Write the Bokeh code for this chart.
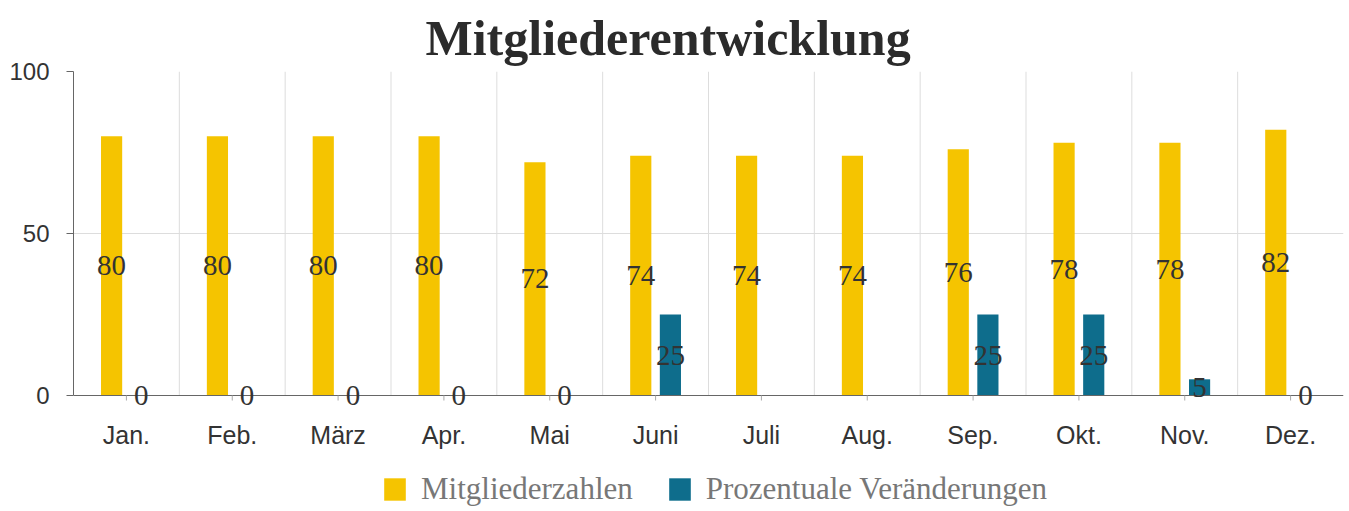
from bokeh.plotting import figure
from bokeh.models import ColumnDataSource, FixedTicker, Legend, LegendItem
from bokeh.core.properties import value
from bokeh.embed import file_html
from bokeh.resources import INLINE

months = ["Jan.", "Feb.", "März", "Apr.", "Mai", "Juni", "Juli", "Aug.", "Sep.", "Okt.", "Nov.", "Dez."]
members = [80, 80, 80, 80, 72, 74, 74, 74, 76, 78, 78, 82]
changes = [0, 0, 0, 0, 0, 25, None, None, 25, 25, 5, 0]
series_names = ["Mitgliederzahlen", "Prozentuale Veränderungen"]
yticks = [0, 50, 100]

YELLOW = "#f5c400"
TEAL = "#0e6d8c"
OFF = 0.14
BW = 0.2

# vertical layout: frame from y=71 px (value 100) to canvas bottom 511 px; value 0 at 395 px
PX_PER_UNIT = (395 - 71) / 100.0
Y_MIN = -(511 - 395) / PX_PER_UNIT
Y_MAX = max(yticks)

centers = [i + 0.5 for i in range(len(months))]
bounds_x = list(range(1, len(months)))

src_m = ColumnDataSource(dict(x=[c - OFF for c in centers], top=members,
                              mid=[v / 2 for v in members], lab=[str(v) for v in members]))
cx, ct = [], []
for c, v in zip(centers, changes):
    if v is not None:
        cx.append(c + OFF)
        ct.append(v)
src_c = ColumnDataSource(dict(x=cx, top=ct, mid=[v / 2 for v in ct], lab=[str(v) for v in ct]))

p = figure(width=1349, height=511, x_range=(0, 12), y_range=(Y_MIN, Y_MAX),
           output_backend="svg", toolbar_location=None,
           min_border_left=73, min_border_right=6, min_border_top=71, min_border_bottom=0)
p.outline_line_color = None

p.title.text = "Mitgliederentwicklung"
p.title.align = "left"
p.title.offset = 352
p.title.standoff = 12
p.title.text_line_height = 0.85
p.title.text_font = "Liberation Serif"
p.title.text_font_style = "bold"
p.title.text_font_size = "50px"
p.title.text_color = "#2b2b2b"

# grid lines (only within the 0..100 value area)
p.xgrid.visible = False
p.segment(x0=bounds_x, y0=[0] * len(bounds_x), x1=bounds_x, y1=[Y_MAX] * len(bounds_x),
          line_color="#dddddd", line_width=1)
p.ygrid.ticker = FixedTicker(ticks=[50, 100])
p.ygrid.grid_line_color = "#dddddd"

r1 = p.vbar(x="x", top="top", width=BW, bottom=0, source=src_m, color=YELLOW, line_color=None)
r2 = p.vbar(x="x", top="top", width=BW, bottom=0, source=src_c, color=TEAL, line_color=None)

# category axis drawn at value 0
p.xaxis.visible = False
p.segment(x0=[0], y0=[0], x1=[12], y1=[0], line_color="#666666", line_width=1.2)
p.segment(x0=centers, y0=[0] * 12, x1=centers, y1=[-5 / PX_PER_UNIT] * 12,
          line_color="#aaaaaa", line_width=1)
p.text(x=centers, y=[-39 / PX_PER_UNIT] * 12, text=months, text_align="center",
       text_baseline="middle", text_font=value("Liberation Sans"), text_font_size="25px",
       text_color="#333333")

for s in (src_m, src_c):
    p.text(x="x", y="mid", text="lab", source=s, text_align="center", text_baseline="middle",
           text_font=value("Liberation Serif"), text_font_size="29px", text_color="#333333")

p.yaxis.ticker = FixedTicker(ticks=yticks)
p.yaxis.bounds = (0, 100)
p.yaxis.major_label_text_font = "Liberation Sans"
p.yaxis.major_label_text_font_size = "24px"
p.yaxis.major_label_text_color = "#333333"
p.yaxis.major_label_standoff = 17
p.yaxis.major_tick_in = 0
p.yaxis.major_tick_out = 7
p.yaxis.major_tick_line_color = "#666666"
p.yaxis.minor_tick_line_color = None
p.yaxis.axis_line_color = "#666666"

legend = Legend(items=[LegendItem(label=series_names[0], renderers=[r1]),
                       LegendItem(label=series_names[1], renderers=[r2])],
                orientation="horizontal", location=(308, 4))
legend.label_text_font = "Liberation Serif"
legend.label_text_font_size = "31px"
legend.label_text_color = "#777777"
legend.glyph_width = 27
legend.glyph_height = 28
legend.label_standoff = 13
legend.spacing = 33
legend.padding = 0
legend.margin = 0
legend.border_line_color = None
legend.background_fill_alpha = 0
p.add_layout(legend)

open("out.html", "w").write(file_html(p, INLINE))
